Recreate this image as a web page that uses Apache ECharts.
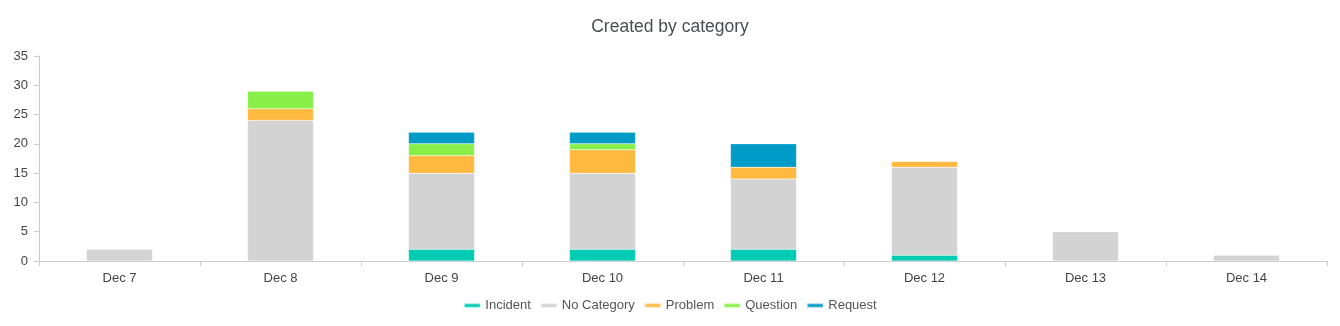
<!DOCTYPE html>
<html><head><meta charset="utf-8">
<script src="https://cdn.jsdelivr.net/npm/echarts@6/dist/echarts.min.js"></script>
<style>html,body{margin:0;padding:0;background:#fff}#c{width:1340px;height:326px}</style>
</head><body><div id="c"></div>
<script>
const categories = ['Dec 7','Dec 8','Dec 9','Dec 10','Dec 11','Dec 12','Dec 13','Dec 14'];
const incident   = [0, 0, 2, 2, 2, 1, 0, 0];
const noCategory = [2, 24, 13, 13, 12, 15, 5, 1];
const problem    = [0, 2, 3, 4, 2, 1, 0, 0];
const question   = [0, 3, 2, 1, 0, 0, 0, 0];
const request    = [0, 0, 2, 2, 4, 0, 0, 0];
const yTicks = [0, 5, 10, 15, 20, 25, 30, 35];

const names = ['Incident','No Category','Problem','Question','Request'];
const colors = ['#00cbb3','#d3d3d3','#ffb93f','#88ef48','#009bc6'];
const vals = [incident, noCategory, problem, question, request];

const chart = echarts.init(document.getElementById('c'), null, {renderer:'canvas'});
chart.setOption({
  animation:false,
  title:{text:'Created by category', left:'center', top:13,
    textStyle:{fontFamily:'Liberation Sans, Arial', fontSize:17.5, fontWeight:'normal', color:'#4a4e54'}},
  legend:{bottom:9, left:'center', itemWidth:16, itemHeight:4, itemGap:9,
    icon:'rect',
    textStyle:{fontFamily:'Liberation Sans, Arial', fontSize:13, color:'#555'},
    data:names},
  grid:{left:39, right:13, top:56, bottom:65},
  xAxis:{type:'category', data:categories,
    axisLine:{lineStyle:{color:'#cccccc'}},
    axisTick:{show:true, length:5, lineStyle:{color:'#cccccc'}},
    axisLabel:{fontFamily:'Liberation Sans, Arial', fontSize:13, color:'#444', margin:11}},
  yAxis:{type:'value', min:yTicks[0], max:yTicks[yTicks.length-1], interval:5,
    axisLine:{show:true, lineStyle:{color:'#cccccc'}},
    axisTick:{show:true, length:5, lineStyle:{color:'#cccccc'}},
    splitLine:{show:false},
    axisLabel:{fontFamily:'Liberation Sans, Arial', fontSize:13, color:'#444', margin:11}},
  series: names.map((n,i)=>({
    name:n, type:'bar', stack:'total', barWidth:'41%',
    itemStyle:{color:colors[i], borderColor:'rgba(255,255,255,0.4)', borderWidth:0.5},
    data: vals[i].map(v=> v===0 ? null : v)
  }))
});
</script></body></html>
